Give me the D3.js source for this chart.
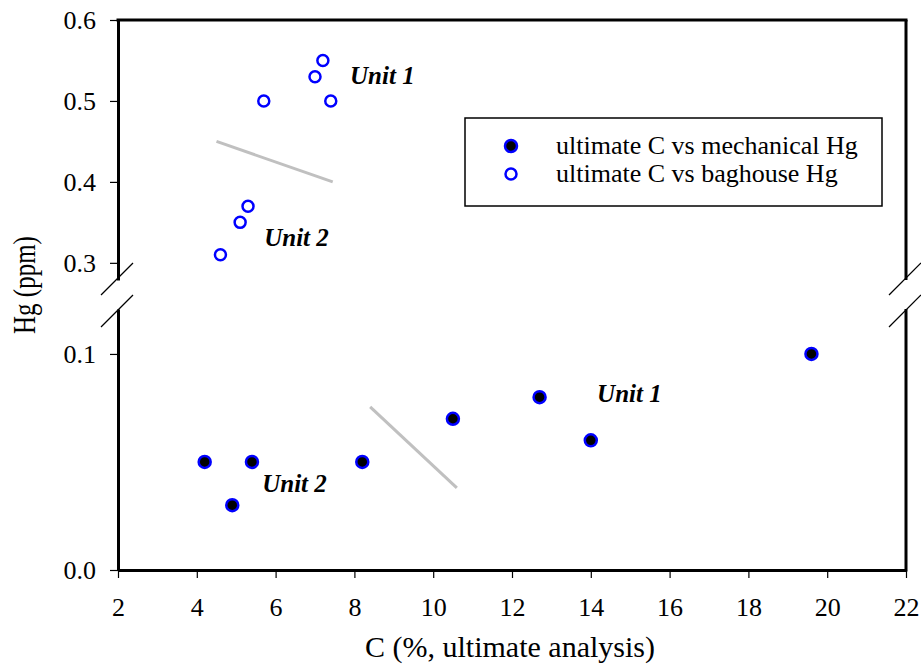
<!DOCTYPE html>
<html><head><meta charset="utf-8">
<script src="https://cdn.jsdelivr.net/npm/d3@7"></script>
<style>body{margin:0;background:#fff}svg{display:block}</style>
</head><body>
<svg id="c" width="921" height="665"></svg>
<script>
// Data
const mechC  = [4.2, 4.9, 5.4, 8.2, 10.5, 12.7, 14.0, 19.6];
const mechHg = [0.05, 0.03, 0.05, 0.05, 0.07, 0.08, 0.06, 0.10];
const bagC   = [7.2, 7.0, 5.7, 7.4, 5.3, 5.1, 4.6];
const bagHg  = [0.55, 0.53, 0.50, 0.50, 0.37, 0.35, 0.31];
const trendUpper = [[4.5, 0.45], [7.45, 0.40]];
const trendLower = [[8.4, 0.0755], [10.6, 0.038]];
const xTicks = [2, 4, 6, 8, 10, 12, 14, 16, 18, 20, 22];
const yTicksUpper = [0.3, 0.4, 0.5, 0.6];
const yTicksLower = [0.0, 0.1];
const seriesNames = ["ultimate C vs mechanical Hg", "ultimate C vs baghouse Hg"];
const unitLabels = [
  {text: "Unit 1", x: 7.89, y: 0.532, seg: "u"},
  {text: "Unit 2", x: 5.71, y: 0.331, seg: "u"},
  {text: "Unit 1", x: 14.16, y: 0.0819, seg: "l"},
  {text: "Unit 2", x: 5.66, y: 0.0403, seg: "l"}
];

const svg = d3.select("#c");
const L = 118, R = 906, T = 20, B = 570;
const x = d3.scaleLinear().domain([2, 22]).range([L, R]);
const yU = d3.scaleLinear().domain([0.2788, 0.6]).range([280, T]);
const yL = d3.scaleLinear().domain([0, 0.1208]).range([B, 309]);
const font = "'Liberation Serif','Times New Roman',serif";

// axes
const gx = svg.append("g").attr("transform", `translate(0,${B})`)
  .call(d3.axisBottom(x).tickValues(xTicks).tickSize(8).tickSizeOuter(0).tickFormat(d3.format("d")));
const gyU = svg.append("g").attr("transform", `translate(${L},0)`)
  .call(d3.axisLeft(yU).tickValues(yTicksUpper).tickSize(8).tickSizeOuter(0).tickFormat(d3.format(".1f")));
const gyL = svg.append("g").attr("transform", `translate(${L},0)`)
  .call(d3.axisLeft(yL).tickValues(yTicksLower).tickSize(8).tickSizeOuter(0).tickFormat(d3.format(".1f")));
[gx, gyU, gyL].forEach(g => {
  g.select(".domain").attr("stroke", "#000").attr("stroke-width", 3);
  g.selectAll(".tick line").attr("stroke", "#000").attr("stroke-width", 1.2);
  g.selectAll(".tick text").attr("font-family", font).attr("font-size", 26).attr("fill", "#000");
});
gx.selectAll(".tick text").attr("y", 38).attr("dy", "0.32em");
[gyU, gyL].forEach(g => g.selectAll(".tick text").attr("x", -22).attr("dy", "0.32em"));

// top and right frame
svg.append("line").attr("x1", L - 1.5).attr("x2", R + 1.5).attr("y1", T).attr("y2", T)
  .attr("stroke", "#000").attr("stroke-width", 3);
svg.append("line").attr("x1", R).attr("x2", R).attr("y1", T).attr("y2", 280)
  .attr("stroke", "#000").attr("stroke-width", 3);
svg.append("line").attr("x1", R).attr("x2", R).attr("y1", 309).attr("y2", B + 1.5)
  .attr("stroke", "#000").attr("stroke-width", 3);

// break marks
[L, R].forEach(ax => {
  [278, 310].forEach(yc => {
    svg.append("line").attr("x1", ax - 17).attr("y1", yc + 17).attr("x2", ax + 15).attr("y2", yc - 15)
      .attr("stroke", "#000").attr("stroke-width", 1.2);
  });
});

// trend lines
const lineU = d3.line().x(d => x(d[0])).y(d => yU(d[1]));
const lineLo = d3.line().x(d => x(d[0])).y(d => yL(d[1]));
svg.append("path").attr("d", lineU(trendUpper)).attr("stroke", "#c0c0c0").attr("stroke-width", 3).attr("fill", "none");
svg.append("path").attr("d", lineLo(trendLower)).attr("stroke", "#c0c0c0").attr("stroke-width", 3).attr("fill", "none");

// points
svg.append("g").selectAll("circle").data(mechC).join("circle")
  .attr("cx", d => x(d)).attr("cy", (d, i) => yL(mechHg[i])).attr("r", 6)
  .attr("fill", "#000").attr("stroke", "#0000ff").attr("stroke-width", 2.5);
svg.append("g").selectAll("circle").data(bagC).join("circle")
  .attr("cx", d => x(d)).attr("cy", (d, i) => yU(bagHg[i])).attr("r", 5.5)
  .attr("fill", "#fff").attr("stroke", "#0000ff").attr("stroke-width", 2.5);

// unit labels
svg.append("g").selectAll("text").data(unitLabels).join("text")
  .attr("x", d => x(d.x)).attr("y", d => (d.seg === "u" ? yU(d.y) : yL(d.y)))
  .attr("dy", "0.35em")
  .attr("font-family", font).attr("font-size", 25).attr("font-weight", "bold").attr("font-style", "italic")
  .text(d => d.text);

// legend
const lg = svg.append("g");
lg.append("rect").attr("x", 465).attr("y", 118).attr("width", 417).attr("height", 88)
  .attr("fill", "#fff").attr("stroke", "#000").attr("stroke-width", 1.5);
seriesNames.forEach((name, i) => {
  const cy = 146 + i * 28;
  lg.append("circle").attr("cx", 511).attr("cy", cy).attr("r", i === 0 ? 6 : 5.5)
    .attr("fill", i === 0 ? "#000" : "#fff").attr("stroke", "#0000ff").attr("stroke-width", 2.5);
  lg.append("text").attr("x", 556).attr("y", cy).attr("dy", "0.32em")
    .attr("font-family", font).attr("font-size", 26).text(name);
});

// axis titles
svg.append("text").attr("x", 510).attr("y", 657).attr("text-anchor", "middle")
  .attr("font-family", font).attr("font-size", 30).text("C (%, ultimate analysis)");
svg.append("text").attr("transform", "translate(35,285) scale(1.3,1) rotate(-90)").attr("text-anchor", "middle")
  .attr("font-family", font).attr("font-size", 25).text("Hg (ppm)");
</script>
</body></html>
